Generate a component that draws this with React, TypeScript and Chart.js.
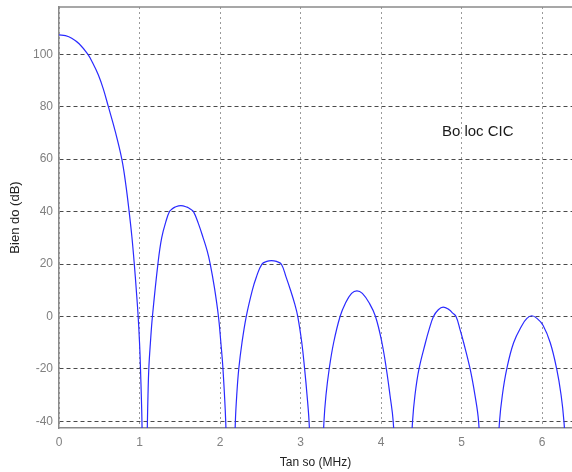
import React, { useEffect, useRef } from "react";
import { Chart, registerables } from "chart.js";

Chart.register(...registerables);

// Frequency (MHz) samples
const freqMHz: number[] = [
  // main lobe
  0, 0.08, 0.158, 0.25, 0.357, 0.42, 0.489, 0.55, 0.613, 0.70, 0.78, 0.83, 0.871, 0.905, 0.935, 0.96, 0.983, 1.0, 1.012, 1.03, 1.06,
  // lobe 2
  1.098, 1.105, 1.115, 1.135, 1.16, 1.228, 1.275, 1.335, 1.372, 1.40, 1.44, 1.513, 1.59, 1.63, 1.67, 1.73, 1.79, 1.84, 1.878, 1.93, 1.98, 2.01, 2.036, 2.07, 2.13,
  // lobe 3
  2.19, 2.207, 2.232, 2.272, 2.325, 2.40, 2.45, 2.52, 2.58, 2.637, 2.70, 2.76, 2.82, 2.875, 2.925, 2.965, 3.015, 3.05, 3.08, 3.105, 3.2,
  // lobe 4
  3.29, 3.315, 3.355, 3.41, 3.49, 3.555, 3.633, 3.70, 3.767, 3.855, 3.93, 4.01, 4.065, 4.11, 4.15, 4.27,
  // lobe 5
  4.39, 4.42, 4.47, 4.55, 4.595, 4.65, 4.71, 4.77, 4.845, 4.885, 4.93, 4.98, 5.025, 5.105, 5.165, 5.21, 5.34,
  // lobe 6
  5.47, 5.505, 5.56, 5.645, 5.75, 5.81, 5.87, 5.935, 6.01, 6.10, 6.18, 6.235, 6.27, 6.41,
];

// Magnitude (dB) samples
const magnitudeDb: number[] = [
  107.4, 107.07, 106.1, 104.0, 100, 96.6, 92.1, 86.8, 80, 70.4, 60, 50.2, 40, 30.4, 20, 10, 0, -10, -20, -40, -100,
  -40, -30, -20, -10, 0, 20, 30, 37, 40, 40.9, 41.7, 42.3, 41.7, 41.0, 40, 35.5, 30, 25, 20, 11, 0, -10, -20, -40, -100,
  -40, -30, -20, -10, 0, 10, 15, 20, 21.0, 21.3, 21.0, 20, 15, 10, 5, 0, -10, -20, -30, -40, -100,
  -40, -30, -20, -10, 0, 5, 8.8, 9.8, 8.8, 5, 0, -10, -20, -30, -40, -100,
  -40, -30, -20, -10, -5, 0, 2.6, 3.6, 2.6, 1.4, 0, -5, -10, -20, -30, -40, -100,
  -40, -30, -20, -10, -3.3, -0.7, 0.3, -0.7, -3.3, -10, -20, -30, -40, -100,
];

const xTicks: number[] = [0, 1, 2, 3, 4, 5, 6];
const yTicks: number[] = [-40, -20, 0, 20, 40, 60, 80, 100];

const xLabel = "Tan so (MHz)";
const yLabel = "Bien do (dB)";
const annotationText = "Bo loc CIC";
const annotationPos = { x: 5.2, y: 70.5 };

const FONT = "Arial, 'Liberation Sans', Helvetica, sans-serif";

const frameAndText = {
  id: "frameAndText",
  afterDraw(chart: any) {
    const { ctx, chartArea, scales } = chart;
    ctx.save();
    ctx.strokeStyle = "#8a8a8a";
    ctx.lineWidth = 1.5;
    ctx.beginPath();
    ctx.moveTo(chartArea.left, chartArea.top);
    ctx.lineTo(chartArea.right, chartArea.top);
    ctx.stroke();
    ctx.fillStyle = "#1a1a1a";
    ctx.font = `15px ${FONT}`;
    ctx.textAlign = "center";
    ctx.textBaseline = "middle";
    ctx.fillText(
      annotationText,
      scales.x.getPixelForValue(annotationPos.x),
      scales.y.getPixelForValue(annotationPos.y)
    );
    ctx.restore();
  },
};

export default function App() {
  const canvasRef = useRef<HTMLCanvasElement | null>(null);

  useEffect(() => {
    const canvas = canvasRef.current;
    if (!canvas) return;
    const data = freqMHz.map((f, i) => ({ x: f, y: magnitudeDb[i] }));
    const chart = new Chart(canvas, {
      type: "line",
      data: {
        datasets: [
          {
            data,
            borderColor: "#2a2aff",
            borderWidth: 1.2,
            pointRadius: 0,
            fill: false,
            tension: 0.4,
          },
        ],
      },
      options: {
        animation: false,
        responsive: false,
        maintainAspectRatio: false,
        layout: { padding: { top: 7, left: 0, right: 0, bottom: 0 } },
        plugins: {
          legend: { display: false },
          tooltip: { enabled: false },
        },
        scales: {
          x: {
            type: "linear",
            min: 0,
            max: 6.37,
            afterBuildTicks: (scale: any) => {
              scale.ticks = xTicks.map((v) => ({ value: v }));
            },
            afterFit: (scale: any) => {
              scale.height = 44;
              scale.paddingLeft = 0;
              scale.paddingRight = 0;
            },
            border: { display: true, color: "#8a8a8a", width: 1.5, dash: [2, 3] },
            grid: {
              color: "#9a9a9a",
              lineWidth: 1,
              drawTicks: false,
            },
            ticks: {
              padding: 7,
              color: "#808080",
              font: { size: 12, family: FONT },
              maxRotation: 0,
              callback: (v: any) => String(v),
            },
            title: {
              display: true,
              text: xLabel,
              color: "#222",
              font: { size: 12, family: FONT },
              padding: { top: 0, bottom: 2 },
            },
          },
          y: {
            type: "linear",
            min: -42.5,
            max: 118,
            afterBuildTicks: (scale: any) => {
              scale.ticks = yTicks.map((v) => ({ value: v }));
            },
            afterFit: (scale: any) => {
              scale.width = 59;
              scale.paddingTop = 0;
              scale.paddingBottom = 0;
            },
            border: { display: true, color: "#8a8a8a", width: 1.5, dash: [4, 3] },
            grid: {
              color: "#4a4a4a",
              lineWidth: 1,
              drawTicks: false,
            },
            ticks: {
              padding: 6,
              color: "#808080",
              font: { size: 12, family: FONT },
              callback: (v: any) => String(v),
            },
            title: {
              display: true,
              text: yLabel,
              color: "#222",
              font: { size: 13, family: FONT },
              padding: { top: 8, bottom: 4 },
            },
          },
        },
      },
      plugins: [frameAndText],
    });
    return () => chart.destroy();
  }, []);

  return (
    <div style={{ position: "absolute", left: 0, top: 0, width: 572, height: 472 }}>
      <canvas ref={canvasRef} width={572} height={472} style={{ width: 572, height: 472 }} />
    </div>
  );
}
